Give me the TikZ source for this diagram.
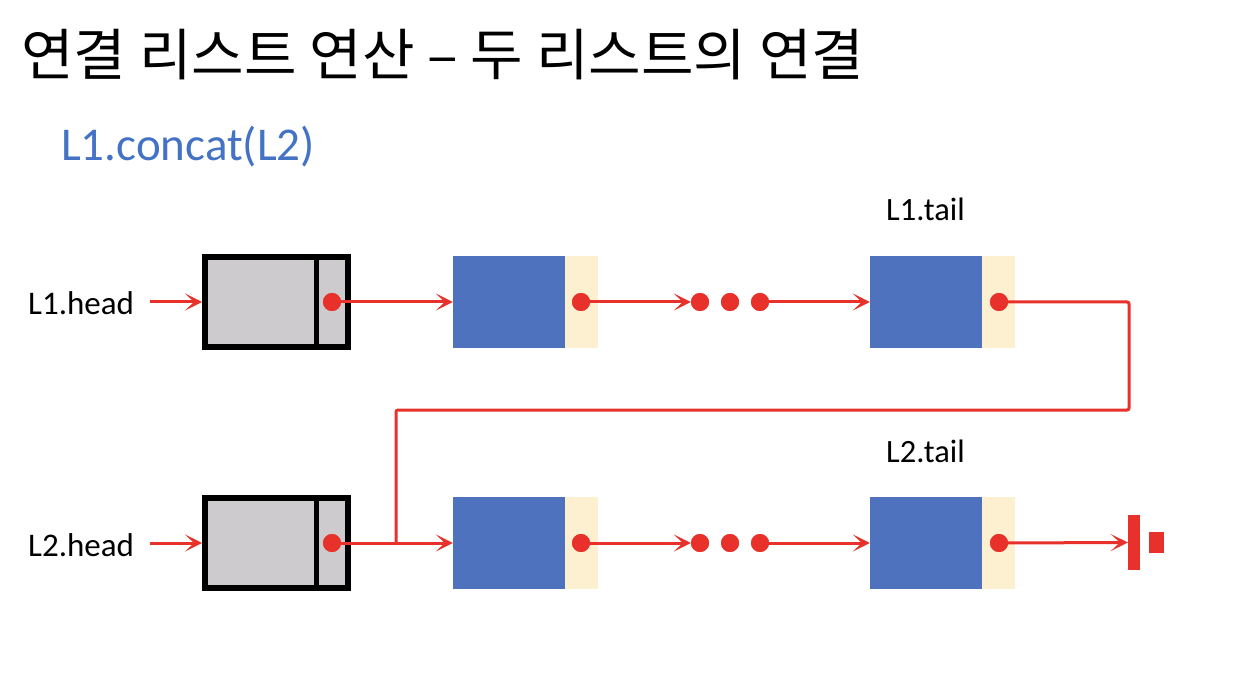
\documentclass[tikz,border=0pt]{standalone}
\usepackage{fontspec}
\setmainfont{Carlito}
\newfontfamily\krfont{Noto Sans CJK KR}
\usetikzlibrary{arrows.meta}
\definecolor{lred}{HTML}{E8312A}
\definecolor{dblue}{HTML}{4E72BE}
\definecolor{lcream}{HTML}{FDF0D0}
\definecolor{lgray}{HTML}{CDCBCD}
\definecolor{tblue}{HTML}{4472C4}
\tikzset{
  headbox/.style={draw=black, line width=6pt, fill=lgray, minimum width=143pt, minimum height=90pt, inner sep=0pt},
  databox/.style={fill=dblue, minimum width=112pt, minimum height=92pt, inner sep=0pt},
  linkbox/.style={fill=lcream, minimum width=33pt, minimum height=92pt, inner sep=0pt, anchor=west},
  dot/.style={circle, fill=lred, minimum size=18pt, inner sep=0pt},
  ln/.style={draw=lred, line width=3pt, rounded corners=2pt},
  arr/.style={ln, -{Stealth[length=17pt,width=17pt,inset=9pt]}},
  lbl/.style={font=\fontsize{33pt}{37pt}\selectfont, inner sep=0pt, anchor=base west},
  tlbl/.style={font=\fontsize{32.5pt}{36pt}\selectfont, inner sep=0pt, anchor=base west},
  gbar/.style={fill=lred, inner sep=0pt}
}
\begin{document}
\begin{tikzpicture}[x=1pt,y=-1pt]
\fill[white] (0,0) rectangle (1240,676);
\useasboundingbox (0,0) rectangle (1240,676);
% title
\node[inner sep=0pt, anchor=base west, font=\krfont\fontsize{56pt}{62pt}\selectfont] (title) at (21,76) {\scalebox{1.02}[1]{연결 리스트 연산 – 두 리스트의 연결}};
\node[inner sep=0pt, anchor=base west, text=tblue, font=\fontsize{47pt}{52pt}\selectfont] (sub) at (61,161) {L1.concat(L2)};
% labels
\node[lbl] (l1head) at (28,315) {L1.head};
\node[lbl] (l2head) at (28,556) {L2.head};
\node[tlbl] (l1tail) at (886,221) {L1.tail};
\node[tlbl] (l2tail) at (886,462) {L2.tail};
% row 1
\coordinate (s1) at (150,302);
\node[headbox] (h1) at (276.5,302) {};
\draw[line width=5pt] ([xshift=39.5pt]h1.north) -- ([xshift=39.5pt]h1.south);
\node[dot] (d1) at (332,302) {};
\node[databox] (n1) at (509,302) {};
\node[linkbox] (k1) at (n1.east) {};
\node[dot] (e1) at (581,302) {};
\node[dot] (a1) at (700,302) {};
\node[dot] (b1) at (730,302) {};
\node[dot] (c1) at (760,302) {};
\node[databox] (n2) at (926,302) {};
\node[linkbox] (k2) at (n2.east) {};
\node[dot] (e2) at (999,302) {};
% row 2
\coordinate (s2) at (150,543);
\node[headbox] (h2) at (276.5,543) {};
\draw[line width=5pt] ([xshift=39.5pt]h2.north) -- ([xshift=39.5pt]h2.south);
\node[dot] (d2) at (332,543) {};
\node[databox] (n3) at (509,543) {};
\node[linkbox] (k3) at (n3.east) {};
\node[dot] (e3) at (581,543) {};
\node[dot] (a2) at (700,543) {};
\node[dot] (b2) at (730,543) {};
\node[dot] (c2) at (760,543) {};
\node[databox] (n4) at (926,543) {};
\node[linkbox] (k4) at (n4.east) {};
\node[dot] (e4) at (999,543) {};
\node[gbar, minimum width=12pt, minimum height=55pt] (g1) at (1134,542.5) {};
\node[gbar, minimum width=15pt, minimum height=21pt] (g2) at (1156.5,542.5) {};
% connectors
\coordinate (r1) at (1129,410);
\coordinate (r2) at (396,410);
\draw[ln] (e2.center) -| (r1) -- (r2) -- (r2 |- d2.center);
\draw[arr] (s1) -- (h1.west);
\draw[arr] (d1.center) -- (n1.west);
\draw[arr] (e1.center) -- (a1.west);
\draw[arr] (c1.center) -- (n2.west);
\draw[arr] (s2) -- (h2.west);
\draw[arr] (d2.center) -- (n3.west);
\draw[arr] (e3.center) -- (a2.west);
\draw[arr] (c2.center) -- (n4.west);
\draw[arr] (e4.center) -- (g1.west);
% dots on top
\foreach \d in {d1,e1,a1,b1,c1,e2,d2,e3,a2,b2,c2,e4} \fill[lred] (\d) circle (9pt);
\end{tikzpicture}
\end{document}
